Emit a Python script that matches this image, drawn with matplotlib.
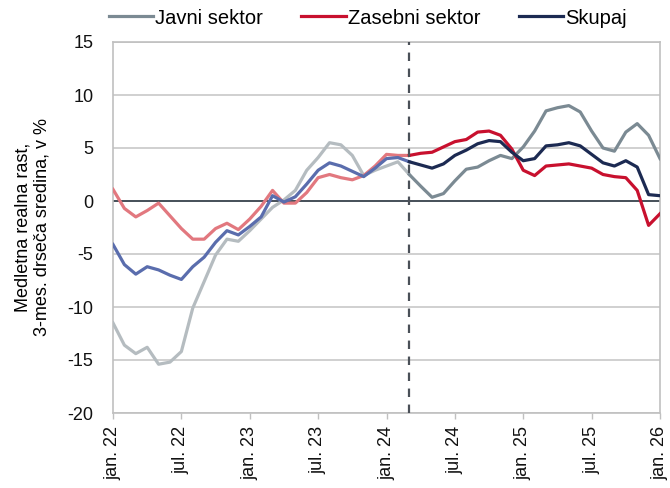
import matplotlib
matplotlib.use("Agg")
from matplotlib import pyplot as plt

# mesečni podatki jan. 22 - jan. 26
months = list(range(49))
tick_pos = list(range(0, 49, 6))
tick_labels = ['jan. 22', 'jul. 22', 'jan. 23', 'jul. 23', 'jan. 24',
               'jul. 24', 'jan. 25', 'jul. 25', 'jan. 26']

javni = [-11.5, -13.6, -14.4, -13.8, -15.4, -15.2, -14.2, -10.1, -7.6, -5.1,
         -3.6, -3.8, -2.8, -1.7, -0.6, 0.1, 1.0, 2.9, 4.1, 5.5,
         5.3, 4.3, 2.4, 2.9, 3.3, 3.7, 2.5, 1.4, 0.35, 0.7,
         1.9, 3.0, 3.2, 3.8, 4.3, 4.0, 5.1, 6.6, 8.5, 8.8,
         9.0, 8.4, 6.6, 5.0, 4.7, 6.5, 7.3, 6.2, 4.0]
zasebni = [1.1, -0.7, -1.5, -0.9, -0.2, -1.4, -2.6, -3.6, -3.6, -2.6,
           -2.1, -2.7, -1.7, -0.5, 1.0, -0.2, -0.2, 0.8, 2.2, 2.5,
           2.2, 2.0, 2.4, 3.3, 4.4, 4.3, 4.3, 4.5, 4.6, 5.1,
           5.6, 5.8, 6.5, 6.6, 6.2, 4.9, 2.9, 2.4, 3.3, 3.4,
           3.5, 3.3, 3.1, 2.5, 2.3, 2.2, 1.0, -2.3, -1.2]
skupaj = [-4.1, -6.0, -6.9, -6.2, -6.5, -7.0, -7.4, -6.2, -5.3, -3.9,
          -2.8, -3.2, -2.4, -1.5, 0.5, -0.1, 0.4, 1.6, 2.9, 3.6,
          3.3, 2.8, 2.3, 3.1, 4.0, 4.1, 3.7, 3.4, 3.1, 3.5,
          4.3, 4.8, 5.4, 5.7, 5.6, 4.6, 3.8, 4.0, 5.2, 5.3,
          5.5, 5.2, 4.4, 3.6, 3.3, 3.8, 3.2, 0.6, 0.5]

cut = 26  # marec 2024

plt.rcParams['font.family'] = ['Liberation Sans', 'DejaVu Sans']
plt.rcParams['font.size'] = 13
plt.rcParams['axes.unicode_minus'] = False

fig = plt.figure(figsize=(6.7, 4.88), dpi=100)
ax = fig.add_axes([113 / 670, 75 / 488, 547 / 670, 371 / 488])

series = [
    ('Javni sektor', javni, '#7b8a93', '#b5bcc0'),
    ('Zasebni sektor', zasebni, '#c8102e', '#e2787f'),
    ('Skupaj', skupaj, '#1c2a52', '#5a6dad'),
]

# svetlejši del pred prelomom, nato polne barve
for name, vals, col, light in series:
    ax.plot(months[:cut + 1], vals[:cut + 1], color=light, lw=2.3, zorder=3)
for name, vals, col, light in series:
    ax.plot(months[cut:], vals[cut:], color=col, lw=2.3, label=name, zorder=4)

ax.axhline(0, color='#3c4650', lw=1.3, zorder=2)
ax.axvline(cut, color='#4a5058', lw=1.6, dashes=(3.8, 3.4), zorder=5)

ax.set_ylim(-20, 15)
ax.set_xlim(0, 48)
ax.set_yticks(range(-20, 16, 5))
ax.set_xticks(tick_pos)
ax.set_xticklabels(tick_labels, rotation=90)

ax.grid(axis='y', color='#c8c8c8', lw=1.2)
ax.set_axisbelow(True)
for s in ax.spines.values():
    s.set_color('#c0c0c0')
    s.set_linewidth(1.2)

ax.tick_params(axis='y', length=0, pad=14, labelcolor='#111111')
ax.tick_params(axis='x', length=4, width=1, color='#c0c0c0', pad=5,
               labelcolor='#111111')

ax.set_ylabel('Medletna realna rast,\n3-mes. drseča sredina, v %', labelpad=12)

fig.legend(loc='center left', bbox_to_anchor=(109 / 670, 1 - 18 / 488),
           ncol=3, frameon=False, fontsize=14.5, handlelength=2.2,
           handletextpad=0.1, columnspacing=1.9, borderpad=0,
           borderaxespad=0)

plt.savefig('out.png', dpi=100)
